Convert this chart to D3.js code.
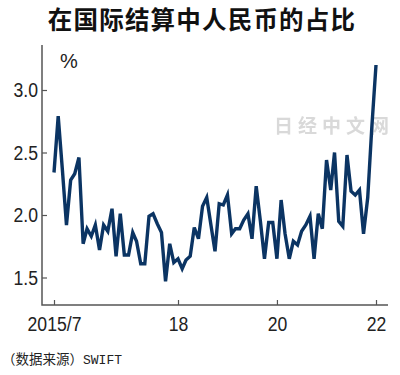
<!DOCTYPE html>
<html lang="zh">
<head>
<meta charset="UTF-8">
<title>在国际结算中人民币的占比</title>
<script src="https://d3js.org/d3.v7.min.js"></script>
<style>
  body { margin: 0; background: #fff; }
  svg { display: block; }
  .tick text { font-family: "Liberation Sans", sans-serif; font-size: 21px; fill: #222; }
  .title { font-family: "Noto Sans CJK SC", sans-serif; font-weight: 700; font-size: 24.5px; letter-spacing: 1.2px; fill: #111; }
  .src { font-family: "Noto Sans CJK SC", sans-serif; font-size: 13.5px; fill: #222; }
</style>
</head>
<body>
<svg width="400" height="375"></svg>
<script>
// monthly share of RMB in SWIFT payments, %, from 2015/7 to 2022/1
const startMonth = "2015-07";
const share = [
  2.34, 2.79, 2.36, 1.92, 2.28, 2.33, 2.46, 1.77, 1.89, 1.83,
  1.92, 1.72, 1.92, 1.87, 2.05, 1.67, 2.01, 1.68, 1.68, 1.86,
  1.79, 1.61, 1.61, 1.99, 2.01, 1.93, 1.86, 1.47, 1.77, 1.62,
  1.65, 1.57, 1.64, 1.67, 1.90, 1.81, 2.07, 2.14, 1.92, 1.71,
  2.09, 2.08, 2.16, 1.85, 1.89, 1.89, 1.96, 2.01, 1.81, 2.23,
  1.95, 1.65, 1.94, 1.94, 1.65, 2.12, 1.85, 1.65, 1.79, 1.76,
  1.87, 1.92, 1.99, 1.65, 2.01, 1.89, 2.44, 2.20, 2.50, 1.95,
  1.91, 2.48, 2.19, 2.16, 2.20, 1.85, 2.14, 2.70, 3.20
];
const xTicks = ["2015-07", "2018-01", "2020-01", "2022-01"];
const xTickLabels = ["2015/7", "18", "20", "22"];
const yTicks = [1.5, 2.0, 2.5, 3.0];

const parse = d3.timeParse("%Y-%m");
const t0 = parse(startMonth);
const data = share.map((v, i) => ({ date: d3.timeMonth.offset(t0, i), value: v }));

const svg = d3.select("svg");
const plotLeft = 42, plotRight = 388, plotTop = 45, plotBottom = 305;

const x = d3.scaleTime()
  .domain([parse("2015-07"), parse("2022-01")])
  .range([54, 376]);
const y = d3.scaleLinear()
  .domain([1.5, 3.0])
  .range([277.5, 90]);

const defs = svg.append("defs");
defs.append("filter").attr("id", "soft")
  .append("feGaussianBlur").attr("stdDeviation", 0.6);

// title
svg.append("text").attr("class", "title")
  .attr("x", 202).attr("y", 29).attr("text-anchor", "middle")
  .text("在国际结算中人民币的占比");

// watermark
svg.append("text")
  .attr("x", 334).attr("y", 133).attr("text-anchor", "middle")
  .attr("filter", "url(#soft)")
  .style("font-family", "Noto Sans CJK SC").style("font-weight", 700)
  .style("font-size", "19px").style("letter-spacing", "5px")
  .attr("fill", "#d9d9d9")
  .text("日经中文网");

// axes
const xAxis = svg.append("g")
  .attr("transform", `translate(0,${plotBottom})`)
  .call(d3.axisBottom(x)
    .tickValues(xTicks.map(parse))
    .tickFormat((d, i) => xTickLabels[i])
    .tickSize(-5).tickSizeOuter(0).tickPadding(10));
xAxis.select(".domain").remove();

const yAxis = svg.append("g")
  .attr("transform", `translate(${plotLeft},0)`)
  .call(d3.axisLeft(y)
    .tickValues(yTicks)
    .tickFormat(d3.format(".1f"))
    .tickSize(-5).tickSizeOuter(0).tickPadding(0));
yAxis.select(".domain").remove();

svg.selectAll(".tick line").attr("stroke", "#555").attr("stroke-width", 1.2);
// narrow the tick digits like the condensed face of the original
xAxis.selectAll(".tick text").attr("dy", "0.75em").attr("transform", "scale(0.84,1)");
yAxis.selectAll(".tick text").attr("x", 0).attr("transform", "translate(-4,0) scale(0.84,1)");

svg.append("path")
  .attr("d", `M${plotLeft},${plotTop}V${plotBottom}H${plotRight}`)
  .attr("fill", "none").attr("stroke", "#555").attr("stroke-width", 1.5);

svg.append("text")
  .attr("x", 60).attr("y", 68)
  .style("font-family", "Liberation Sans, sans-serif").style("font-size", "20px")
  .attr("fill", "#222").text("%");

// line
svg.append("path")
  .datum(data)
  .attr("fill", "none")
  .attr("stroke", "#0b3463")
  .attr("stroke-width", 3.4)
  .attr("stroke-linejoin", "miter")
  .attr("d", d3.line().x(d => x(d.date)).y(d => y(d.value)));

// source
const src = svg.append("text").attr("class", "src")
  .attr("x", 2).attr("y", 364);
src.append("tspan").text("（数据来源）");
src.append("tspan").style("font-family", "Liberation Mono, monospace").style("font-size", "13px").text("SWIFT");
</script>
</body>
</html>
